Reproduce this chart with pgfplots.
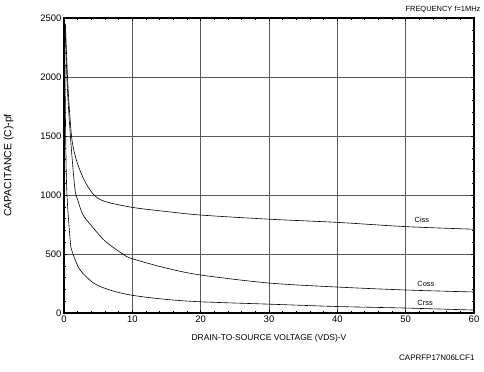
\documentclass[border=0pt]{standalone}
\usepackage{fontspec}
\setmainfont{Liberation Sans}
\usepackage{pgfplots}
\pgfplotsset{compat=1.18}
\begin{document}
\begin{tikzpicture}[x=1bp,y=1bp]
\path[use as bounding box] (-64,-58) rectangle (420,313);
\begin{axis}[
  at={(0,0)}, anchor=south west,
  scale only axis, width=410bp, height=295bp,
  xmin=0, xmax=60, ymin=0, ymax=2500,
  xtick={0,10,...,60}, ytick={0,500,...,2500},
  minor x tick num=4, minor y tick num=4,
  tick align=inside, major tick length=3pt, minor tick length=2pt,
  tick style={black, line width=0.4pt},
  grid=major, major grid style={black!65, line width=0.45pt},
  axis line style={line width=2pt},
  /pgf/number format/assume math mode=true,
  /pgf/number format/1000 sep={},
  ticklabel style={font=\fontsize{9.5}{10}\selectfont},
  xticklabel style={yshift=1pt},
  yticklabel style={xshift=1pt},
  xlabel={DRAIN-TO-SOURCE VOLTAGE (VDS)-V},
  ylabel={CAPACITANCE (C)-pf},
  xlabel style={font=\fontsize{8.5}{9}\selectfont, yshift=-5pt},
  ylabel style={font=\fontsize{10.5}{11}\selectfont, yshift=20pt},
  clip=true,
]
\addplot[black, line width=0.6pt, smooth, tension=0.5] coordinates {
 (0.2,2450) (0.6,1900) (1.1,1500) (1.6,1340) (2.3,1215) (3.2,1100) (4.4,1000)
 (6,945) (10,895) (15,860) (20,830) (30,795) (40,768) (50,732) (60,710)};
\addplot[black, line width=0.6pt, smooth, tension=0.5] coordinates {
 (0.15,2450) (0.5,1900) (1.0,1450) (1.6,1050) (2.0,960) (2.8,830) (4.3,720)
 (6,610) (8.6,500) (10,460) (15,380) (20,322) (30,254) (40,220) (50,195) (60,178)};
\addplot[black, line width=0.6pt, smooth, tension=0.5] coordinates {
 (0.1,2450) (0.2,1700) (0.4,1050) (0.9,620) (1.2,520) (2.3,370) (4.3,255)
 (6.7,195) (10,150) (15,115) (20,95) (30,75) (40,55) (50,42) (60,25)};
\node[font=\fontsize{7.5}{8}\selectfont, anchor=west] at (axis cs:50.8,790) {Ciss};
\node[font=\fontsize{7.5}{8}\selectfont, anchor=west] at (axis cs:51.2,250) {Coss};
\node[font=\fontsize{7.5}{8}\selectfont, anchor=west] at (axis cs:51.2,85) {Crss};
\end{axis}
\node[font=\fontsize{7.5}{8}\selectfont, anchor=east] at (420,303) {FREQUENCY f=1MHz};
\node[font=\fontsize{8}{9}\selectfont, anchor=east] at (414,-45) {CAPRFP17N06LCF1};
\end{tikzpicture}
\end{document}
